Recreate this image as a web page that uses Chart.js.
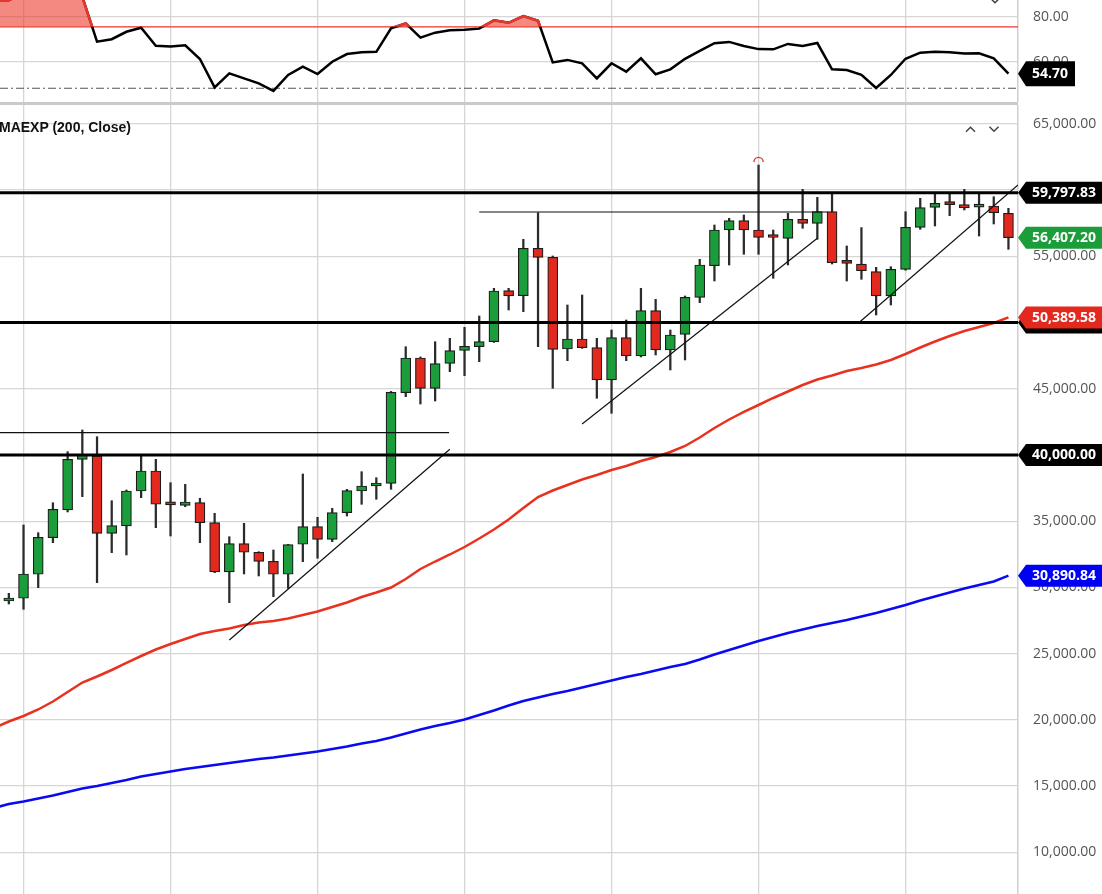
<!DOCTYPE html>
<html><head><meta charset="utf-8">
<script src="https://cdn.jsdelivr.net/npm/chart.js@4.4.1/dist/chart.umd.min.js"></script>
<style>
html,body{margin:0;padding:0;background:#fff;overflow:hidden}
#wrap{position:relative;width:1102px;height:894px;overflow:hidden}
#rsi{position:absolute;left:0;top:0}
#sep{position:absolute;left:0;top:102px;width:1018px;height:3px;background:#cacaca}
#main{position:absolute;left:0;top:105px}
#legend{position:absolute;left:-1px;top:119px;font:bold 14px "Liberation Sans",Arial,sans-serif;color:#111;line-height:16px;white-space:nowrap}
</style></head>
<body><div id="wrap">
<canvas id="rsi" width="1102" height="102"></canvas>
<div id="sep"></div>
<canvas id="main" width="1102" height="789"></canvas>
<div id="legend">MAEXP (200, Close)</div>
</div>
<script>
// ---- data (candle index k: first candle is k = -1) ----
const FIRST_CANDLE = -1;
const openP  = [28977,29181,30993,33756,35848,39675,39925,34088,34640,37282,38792,36260,36202,36399,34889,31167,33303,32654,31974,30993,33258,34587,33635,35644,37282,37660,37863,44704,47324,45036,46923,47905,48177,48554,52405,52027,55606,54926,48003,48758,48101,45663,48856,47475,50895,47928,49113,51906,54292,56988,57690,56988,56440,56361,57795,57493,58369,54490,54420,53839,52005,54020,57191,58701,59048,58898,58720,58800,58248];
const highP  = [29558,34715,34134,36399,40249,41888,41382,36550,37358,39925,39675,37909,37788,36731,35598,33832,34843,32700,32828,33260,38566,35296,35976,37410,38739,38286,44800,48177,47400,48554,48811,49641,50495,52586,52586,56285,58294,55025,51325,52080,48811,49438,50193,52586,51755,49438,52005,54775,57365,57871,58120,61895,56988,58248,60060,59456,59758,55780,57169,54171,54217,58369,59381,59758,59758,60060,59758,59502,58626];
const lowP   = [28750,28350,29981,33379,35700,36852,30359,32624,32450,36776,34511,33885,36097,33379,31114,28849,31016,30865,29302,29936,31944,32201,33454,35395,36278,36655,37410,44402,43850,44077,46289,45987,47044,48500,50948,50819,48177,45036,47120,48050,44281,43148,47120,47400,47550,46418,47173,51499,53137,54345,55153,55153,53341,54345,57116,56285,54420,53137,53265,50570,51325,53950,57040,57290,58067,58498,56535,57441,55530];
const closeP = [29181,31016,33786,35900,39675,40000,34088,34662,37282,38792,36278,36240,36452,34889,31167,33303,32654,31974,30993,33228,34587,33635,35644,37305,37660,37833,44734,47324,45036,46893,47875,48207,48554,52382,52005,55606,54926,47980,48758,48101,45663,48856,47475,50895,47928,49060,51906,54345,56988,57690,56988,56436,56420,57795,57493,58369,54519,54470,53915,52005,54020,57191,58671,59003,58898,58649,58750,58294,56407.20];

// moving averages (first value at k = -2)
const FIRST_EMA = -2;
const emaRed = [19388,19879,20294,20785,21389,22106,22824,23277,23767,24296,24824,25315,25730,26108,26485,26712,26901,27165,27354,27467,27656,27920,28184,28524,28864,29279,29619,29996,30638,31393,31959,32488,33054,33696,34375,35130,35998,36829,37320,37735,38150,38490,38867,39169,39547,39849,40227,40680,41321,42039,42680,43247,43775,44304,44794,45285,45700,46002,46342,46569,46833,47173,47626,48116,48569,48985,49362,49664,49966,50389.58];
const emaBlue = [13349,13650,13839,14066,14292,14556,14821,15009,15236,15462,15727,15915,16104,16293,16444,16595,16746,16897,17048,17161,17312,17463,17614,17803,17992,18218,18407,18671,18973,19275,19539,19766,20030,20370,20710,21087,21427,21691,21955,22182,22446,22710,22975,23239,23465,23730,23994,24220,24560,24938,25277,25617,25957,26259,26561,26825,27089,27316,27542,27807,28071,28373,28675,29015,29317,29619,29921,30185,30449,30890.84];

// oscillator (first value at k = -2)
const FIRST_OSC = -2;
const oscVals = [87.2,87.3,90.5,92.0,93.0,94.0,88.8,68.9,70.0,73.3,75.1,67.1,66.8,67.3,61.2,48.6,54.8,52.6,50.4,47.0,54.1,57.8,54.5,60.0,63.4,64.2,64.4,74.8,77.0,70.7,72.9,74.0,74.2,74.7,78.4,77.3,80.3,78.2,59.7,60.8,59.3,52.6,59.3,55.6,61.5,54.4,56.6,61.3,64.8,68.2,68.8,67.0,65.6,65.5,67.9,67.0,68.3,56.6,56.3,54.2,48.3,54.1,61.3,64.0,64.4,64.2,63.6,63.7,61.5,54.70];
const oscUpper = 75.5;
const oscLower = 48.2;

// tick values
const priceTicks = [10000,15000,20000,25000,30000,35000,40000,45000,50000,55000,60000,65000];
const oscTicks = [60, 80];
const timeTicks = [0, 10, 20, 30, 40, 50, 60];

// drawn levels and trend lines (in data units: [k, price])
const levelLines = [59797.83, 50000, 40000];
const trendLines = [
  [[14, 26030], [29, 40430]],
  [[38, 42340], [54, 56360]],
  [[56.9, 50060], [67.65, 60385]]
];
const rangeLines = [ // [kStart, kEnd, price]
  [-1.6, 28.95, 41684],
  [31, 54.7, 58346]
];

// ---- view ranges ----
const X_MIN = -1.6, X_MAX = 67.65;
const Y_MIN = 6855, Y_MAX = 66425;
const O_MIN = 42.09, O_MAX = 87.42;

const GREEN = '#1b9d3b', RED = '#e3281d', BLUE = '#0a0af2', GRID = '#d6d6d6';
const fmt = v => Number(v).toLocaleString('en-US', {minimumFractionDigits: 2, maximumFractionDigits: 2});

function drawTag(chart, scaleId, value, text, color, boxRight, h) {
  const ctx = chart.ctx, y = chart.scales[scaleId].getPixelForValue(value), x0 = chart.chartArea.right;
  ctx.save();
  ctx.fillStyle = color;
  ctx.beginPath();
  ctx.moveTo(x0, y);
  ctx.lineTo(x0 + 8, y - h / 2);
  ctx.lineTo(boxRight, y - h / 2);
  ctx.lineTo(boxRight, y + h / 2);
  ctx.lineTo(x0 + 8, y + h / 2);
  ctx.closePath();
  ctx.fill();
  if (text) {
    ctx.fillStyle = '#fff';
    ctx.font = 'bold 14px "Open Sans", sans-serif';
    ctx.textBaseline = 'middle';
    ctx.textAlign = 'left';
    ctx.fillText(text, x0 + 14, y + 0.5);
  }
  ctx.restore();
}
function chevron(ctx, cx, cy, up) {
  ctx.save(); ctx.strokeStyle = '#444'; ctx.lineWidth = 1.5; ctx.beginPath();
  if (up) { ctx.moveTo(cx - 4.5, cy + 2.2); ctx.lineTo(cx, cy - 2.2); ctx.lineTo(cx + 4.5, cy + 2.2); }
  else { ctx.moveTo(cx - 4.5, cy - 2.2); ctx.lineTo(cx, cy + 2.2); ctx.lineTo(cx + 4.5, cy - 2.2); }
  ctx.stroke(); ctx.restore();
}

function xAxis() {
  return {
    type: 'linear', min: X_MIN, max: X_MAX, offset: false,
    ticks: {display: false},
    afterBuildTicks: s => { s.ticks = timeTicks.map(v => ({value: v})); },
    grid: {color: GRID, lineWidth: 1.3, drawTicks: false, offset: false},
    border: {display: false}
  };
}
function yAxis(min, max, tickVals, cb) {
  return {
    type: 'linear', position: 'right', min, max, beginAtZero: false,
    ticks: {padding: 15, color: '#555', crossAlign: 'near', autoSkip: false,
            font: {family: '"Open Sans", sans-serif', size: 14}, callback: cb},
    afterBuildTicks: s => { s.ticks = tickVals.map(v => ({value: v})); },
    grid: {color: GRID, lineWidth: 1.3, drawTicks: false},
    border: {display: true, color: '#cfcfcf', width: 1.5},
    afterFit: s => { s.width = 84; s.paddingTop = 0; s.paddingBottom = 0; }
  };
}

// ---- main price chart ----
const lastC = closeP.length - 1;
const mainOverlay = {
  id: 'mainOverlay',
  afterDraw(chart) {
    const ctx = chart.ctx, xs = chart.scales.x, ys = chart.scales.y, a = chart.chartArea;
    let mi = 0; highP.forEach((h, i) => { if (h > highP[mi]) mi = i; });
    const mx = xs.getPixelForValue(mi + FIRST_CANDLE), my = ys.getPixelForValue(highP[mi]) - 3;
    ctx.save(); ctx.strokeStyle = '#e8321f'; ctx.lineWidth = 1.4;
    ctx.beginPath(); ctx.arc(mx, my, 4.6, Math.PI, 0); ctx.stroke(); ctx.restore();
    chevron(ctx, a.right - 47.5, a.top + 24.5, true);
    chevron(ctx, a.right - 24, a.top + 24, false);
    drawTag(chart, 'y', levelLines[0], fmt(levelLines[0]), '#000', 1102, 22);
    drawTag(chart, 'y', closeP[lastC], fmt(closeP[lastC]), GREEN, 1102, 22);
    drawTag(chart, 'y', levelLines[1], '', '#000', 1102, 22);
    drawTag(chart, 'y', emaRed[emaRed.length - 1], fmt(emaRed[emaRed.length - 1]), RED, 1102, 22);
    drawTag(chart, 'y', levelLines[2], fmt(levelLines[2]), '#000', 1102, 22);
    drawTag(chart, 'y', emaBlue[emaBlue.length - 1], fmt(emaBlue[emaBlue.length - 1]), '#0000f5', 1102, 22);
  }
};

const lineDs = (pts, color, width, order, extra) => Object.assign({
  type: 'line', data: pts, borderColor: color, borderWidth: width, pointRadius: 0,
  fill: false, tension: 0, order
}, extra || {});

const mainDatasets = [];
levelLines.forEach(v => mainDatasets.push(lineDs([{x: X_MIN, y: v}, {x: X_MAX, y: v}], '#000', 3, 0)));
trendLines.forEach(t => mainDatasets.push(lineDs(t.map(p => ({x: p[0], y: p[1]})), '#111', 1.2, 1)));
rangeLines.forEach(r => mainDatasets.push(lineDs([{x: r[0], y: r[2]}, {x: r[1], y: r[2]}], '#111', 1.2, 1)));
mainDatasets.push({
  type: 'bar', order: 2, grouped: false,
  data: openP.map((o, i) => ({x: i + FIRST_CANDLE, y: [o, closeP[i]]})),
  backgroundColor: openP.map((o, i) => closeP[i] >= o ? GREEN : RED),
  borderColor: '#1c1c1c', borderWidth: 1.2, borderSkipped: false,
  barThickness: 10, minBarLength: 3
});
mainDatasets.push({
  type: 'bar', order: 3, grouped: false,
  data: lowP.map((l, i) => ({x: i + FIRST_CANDLE, y: [l, highP[i]]})),
  backgroundColor: '#2b2b2b', borderWidth: 0, barThickness: 1.6
});
mainDatasets.push(lineDs(emaRed.map((v, i) => ({x: i + FIRST_EMA, y: v})), '#e8321f', 2.5, 4));
mainDatasets.push(lineDs(emaBlue.map((v, i) => ({x: i + FIRST_EMA, y: v})), BLUE, 2.5, 4));

new Chart(document.getElementById('main'), {
  type: 'bar',
  data: {datasets: mainDatasets},
  options: {
    responsive: false, animation: false, devicePixelRatio: 1,
    layout: {padding: 0},
    plugins: {legend: {display: false}, tooltip: {enabled: false}},
    scales: {x: xAxis(), y: yAxis(Y_MIN, Y_MAX, priceTicks, v => fmt(v))}
  },
  plugins: [mainOverlay]
});

// ---- oscillator pane ----
const clipAbove = {
  id: 'clipAbove',
  beforeDatasetDraw(chart, args) {
    if (args.index !== 0) return;
    const a = chart.chartArea, y = chart.scales.y.getPixelForValue(oscUpper), ctx = chart.ctx;
    ctx.save(); ctx.beginPath(); ctx.rect(a.left, a.top - 5, a.right - a.left, y - a.top + 5); ctx.clip();
  },
  afterDatasetDraw(chart, args) {
    if (args.index !== 0) return;
    chart.ctx.restore();
  },
  afterDraw(chart) {
    const a = chart.chartArea, ctx = chart.ctx;
    chevron(ctx, a.right - 23, a.top + 0.5, false);
    drawTag(chart, 'y', oscVals[oscVals.length - 1], oscVals[oscVals.length - 1].toFixed(2), '#000', 1075, 25);
  }
};
const oscPts = oscVals.map((v, i) => ({x: i + FIRST_OSC, y: v}));
new Chart(document.getElementById('rsi'), {
  type: 'line',
  data: {datasets: [
    lineDs(oscPts, '#e8372c', 2.5, 0, {fill: {target: {value: oscUpper}, above: 'rgba(234,52,38,0.58)', below: 'rgba(0,0,0,0)'}}),
    lineDs(oscPts, '#000', 2.5, 1),
    lineDs([{x: X_MIN, y: oscUpper}, {x: X_MAX, y: oscUpper}], '#ea3b2e', 1.3, 2),
    lineDs([{x: X_MIN, y: oscLower}, {x: X_MAX, y: oscLower}], '#555', 1.2, 2, {borderDash: [8, 3, 2, 3]})
  ]},
  options: {
    responsive: false, animation: false, devicePixelRatio: 1,
    layout: {padding: 0},
    plugins: {legend: {display: false}, tooltip: {enabled: false}},
    scales: {x: xAxis(), y: yAxis(O_MIN, O_MAX, oscTicks, v => Number(v).toFixed(2))}
  },
  plugins: [clipAbove]
});
</script>
</body></html>
